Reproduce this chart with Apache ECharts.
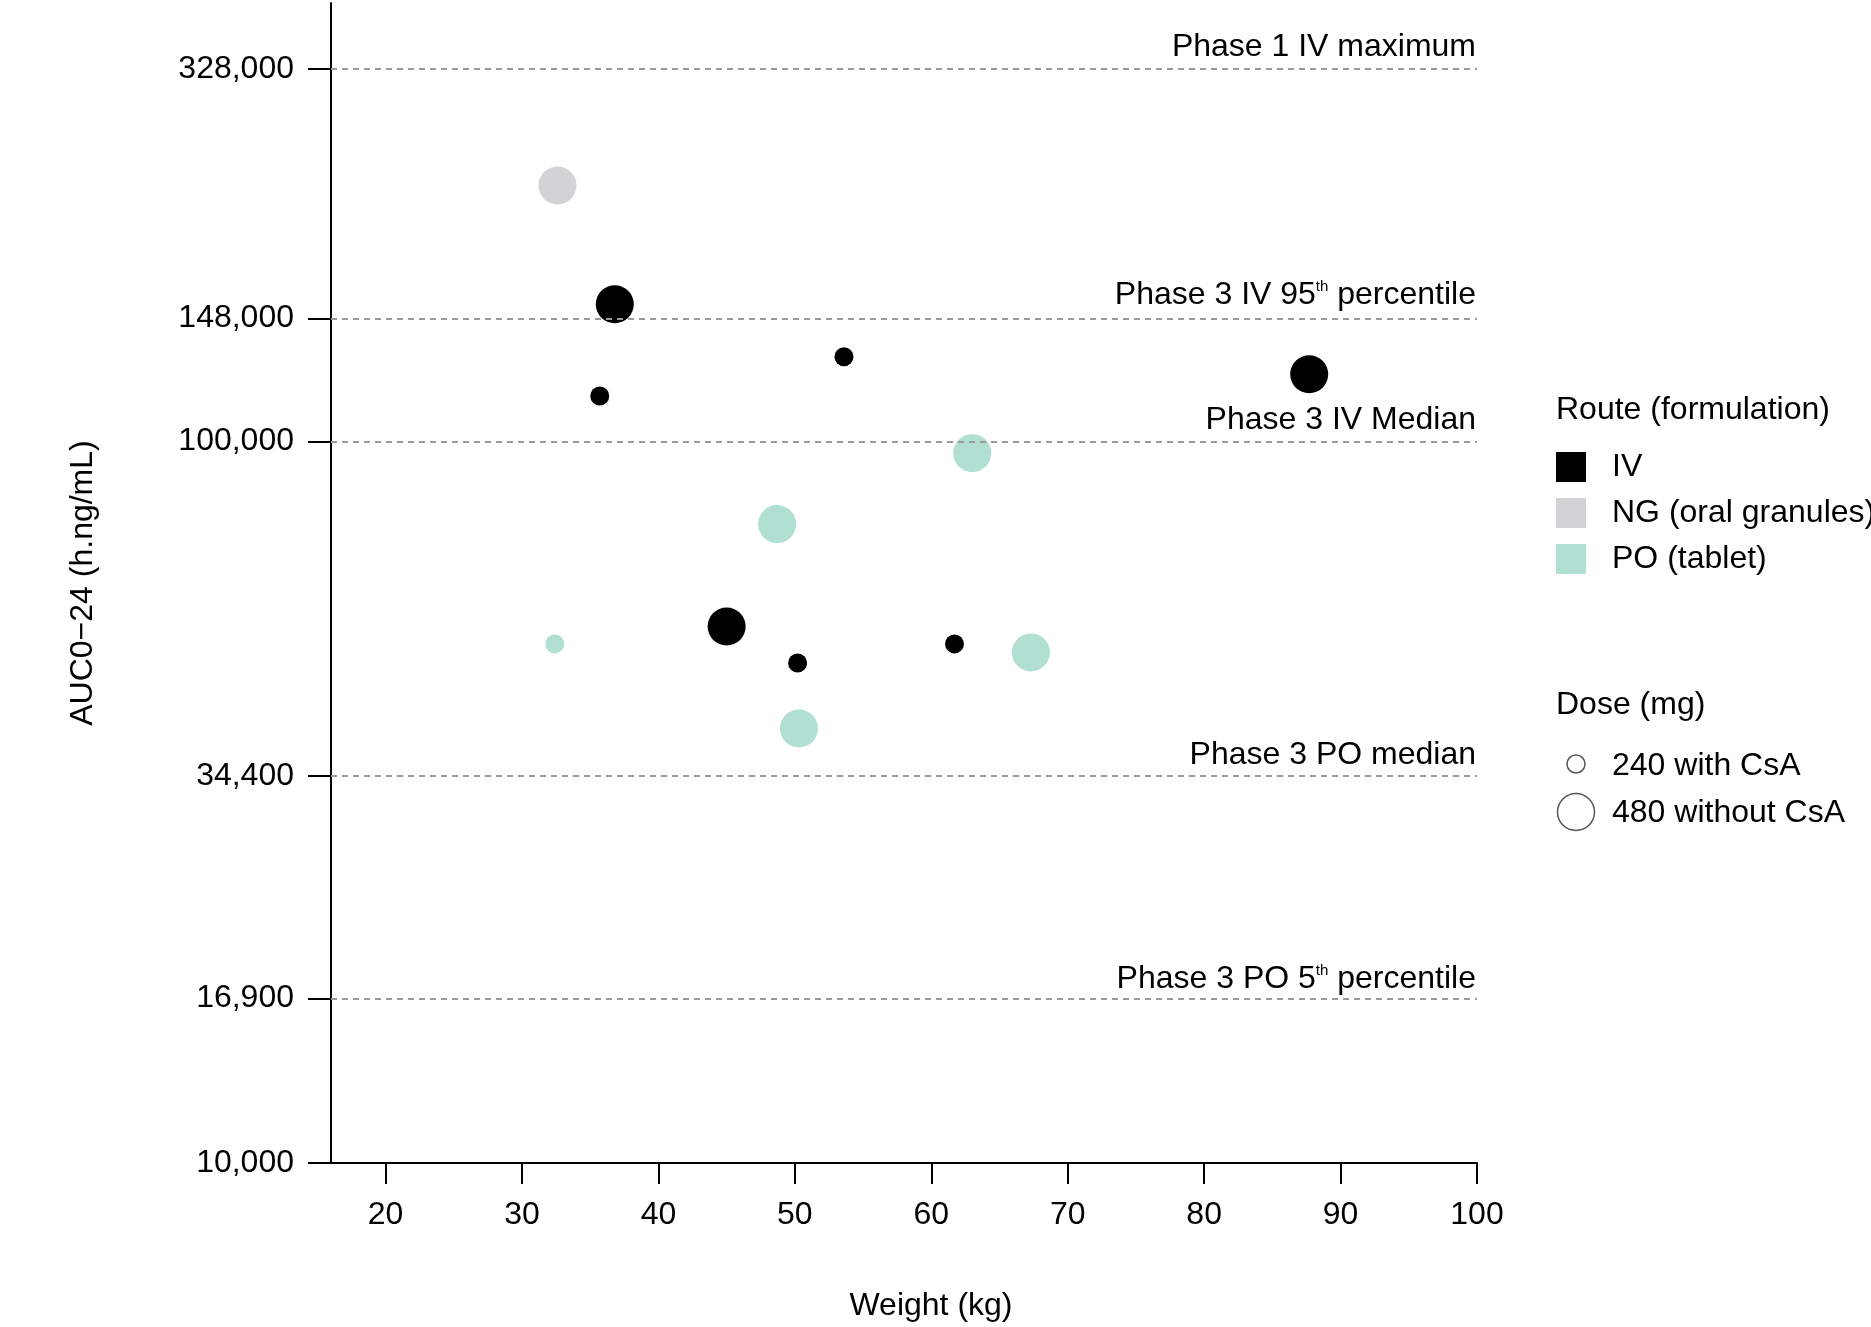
<!DOCTYPE html>
<html>
<head>
<meta charset="utf-8">
<style>
html,body{margin:0;padding:0;background:#fff;}
#chart{width:1871px;height:1327px;}
</style>
<script src="https://cdn.jsdelivr.net/npm/echarts@6.0.0/dist/echarts.min.js"></script>
</head>
<body>
<div id="chart"></div>
<script>
// ---- data ----
var ivWeight = [36.8, 53.6, 87.7, 35.7, 45.0, 61.7, 50.2];
var ivAuc    = [154900, 131000, 123900, 115600, 55400, 52400, 49300];
var ivDose   = [480, 240, 480, 240, 480, 240, 240];

var ngWeight = [32.6];
var ngAuc    = [226200];
var ngDose   = [480];

var poWeight = [63.0, 48.7, 32.4, 67.3, 50.3];
var poAuc    = [96300, 76800, 52400, 51000, 40000];
var poDose   = [480, 480, 240, 480, 480];

var yTicks = [10000, 16900, 34400, 100000, 148000, 328000];
var xTicks = [20, 30, 40, 50, 60, 70, 80, 90, 100];

var refValues = [328000, 148000, 100000, 34400, 16900];
var refLabels = [
  '{a|Phase 1 IV maximum}',
  '{a|Phase 3 IV 95}{s|th}{a| percentile}',
  '{a|Phase 3 IV Median}',
  '{a|Phase 3 PO median}',
  '{a|Phase 3 PO 5}{s|th}{a| percentile}'
];
var refLabelDist = [6, 7, 5, 5, 3];

var doseLabels = ['240 with CsA', '480 without CsA'];

// ---- helpers ----
var FONT = 'Liberation Sans, Arial, Helvetica, sans-serif';
var FS = 32;
function build(w, a, d) {
  return w.map(function (x, i) { return [x, a[i], d[i]]; });
}
function sizeOf(dose) { return dose === 480 ? 38 : 19; }

var chart = echarts.init(document.getElementById('chart'), null, {renderer: 'canvas'});

var markData = refValues.map(function (v, i) {
  return {
    yAxis: v,
    label: { formatter: refLabels[i], distance: [1, refLabelDist[i]] }
  };
});

var option = {
  animation: false,
  backgroundColor: '#fff',
  textStyle: { fontFamily: FONT },
  grid: { left: 331, right: 394, top: 3, bottom: 164, containLabel: false },
  xAxis: {
    type: 'value',
    min: 16,
    max: 100,
    name: 'Weight (kg)',
    nameLocation: 'middle',
    nameGap: 127,
    nameTextStyle: { fontSize: FS, color: '#000', fontFamily: FONT, padding: [0, 0, 0, 54] },
    axisLine: { show: true, onZero: false, lineStyle: { color: '#000', width: 2 } },
    axisTick: { show: true, length: 21, lineStyle: { color: '#000', width: 2 }, customValues: xTicks },
    axisLabel: { fontSize: FS, color: '#000', margin: 36, fontFamily: FONT, customValues: xTicks },
    splitLine: { show: false }
  },
  yAxis: {
    type: 'log',
    logBase: 10,
    min: 10000,
    max: 405000,
    name: 'AUC0\u221224 (h.ng/mL)',
    nameLocation: 'middle',
    nameGap: 232,
    nameTextStyle: { fontSize: FS, color: '#000', fontFamily: FONT },
    axisLine: { show: true, lineStyle: { color: '#000', width: 2 } },
    axisTick: { show: true, length: 23, lineStyle: { color: '#000', width: 2 }, customValues: yTicks },
    axisLabel: {
      fontSize: FS, color: '#000', margin: 37, fontFamily: FONT, customValues: yTicks,
      formatter: function (v) { return Math.round(v).toLocaleString('en-US'); }
    },
    splitLine: { show: false },
    minorTick: { show: false }
  },
  legend: {
    orient: 'vertical',
    left: 1556,
    top: 451,
    padding: 0,
    itemWidth: 30,
    itemHeight: 30,
    itemGap: 14,
    icon: 'rect',
    selectedMode: false,
    textStyle: { fontSize: FS, color: '#000', fontFamily: FONT, padding: [0, 0, 0, 21] },
    data: ['IV', 'NG (oral granules)', 'PO (tablet)']
  },
  series: [
    {
      name: 'IV',
      type: 'scatter',
      data: build(ivWeight, ivAuc, ivDose),
      symbol: 'circle',
      symbolSize: function (v) { return sizeOf(v[2]); },
      itemStyle: { color: '#000000', opacity: 1 },
      z: 3,
      markLine: {
        silent: true,
        symbol: 'none',
        animation: false,
        lineStyle: { color: '#9a9a9a', type: [6, 5], width: 2 },
        label: {
          show: true,
          position: 'insideEndTop',
          color: '#000',
          fontSize: FS,
          fontFamily: FONT,
          rich: {
            a: { fontSize: FS, color: '#000', fontFamily: FONT },
            s: { fontSize: 15, color: '#000', fontFamily: FONT, verticalAlign: 'top' }
          }
        },
        emphasis: { disabled: true },
        data: markData
      }
    },
    {
      name: 'NG (oral granules)',
      type: 'scatter',
      data: build(ngWeight, ngAuc, ngDose),
      symbol: 'circle',
      symbolSize: function (v) { return sizeOf(v[2]); },
      itemStyle: { color: '#d1d3d4', opacity: 1 },
      z: 3
    },
    {
      name: 'PO (tablet)',
      type: 'scatter',
      data: build(poWeight, poAuc, poDose),
      symbol: 'circle',
      symbolSize: function (v) { return sizeOf(v[2]); },
      itemStyle: { color: '#b1dfd2', opacity: 1 },
      z: 3
    }
  ],
  graphic: [
    { type: 'text', left: 1556, top: 410 - 16, style: { text: 'Route (formulation)', font: FS + 'px ' + FONT, fill: '#000' } },
    { type: 'text', left: 1556, top: 705 - 16, style: { text: 'Dose (mg)', font: FS + 'px ' + FONT, fill: '#000' } },
    { type: 'circle', shape: { cx: 1576, cy: 764, r: 9 }, style: { fill: 'none', stroke: '#555', lineWidth: 1.5 } },
    { type: 'circle', shape: { cx: 1576, cy: 812, r: 18.5 }, style: { fill: 'none', stroke: '#555', lineWidth: 1.5 } },
    { type: 'text', left: 1612, top: 766 - 16, style: { text: doseLabels[0], font: FS + 'px ' + FONT, fill: '#000' } },
    { type: 'text', left: 1612, top: 813 - 16, style: { text: doseLabels[1], font: FS + 'px ' + FONT, fill: '#000' } }
  ]
};

chart.setOption(option);
</script>
</body>
</html>
